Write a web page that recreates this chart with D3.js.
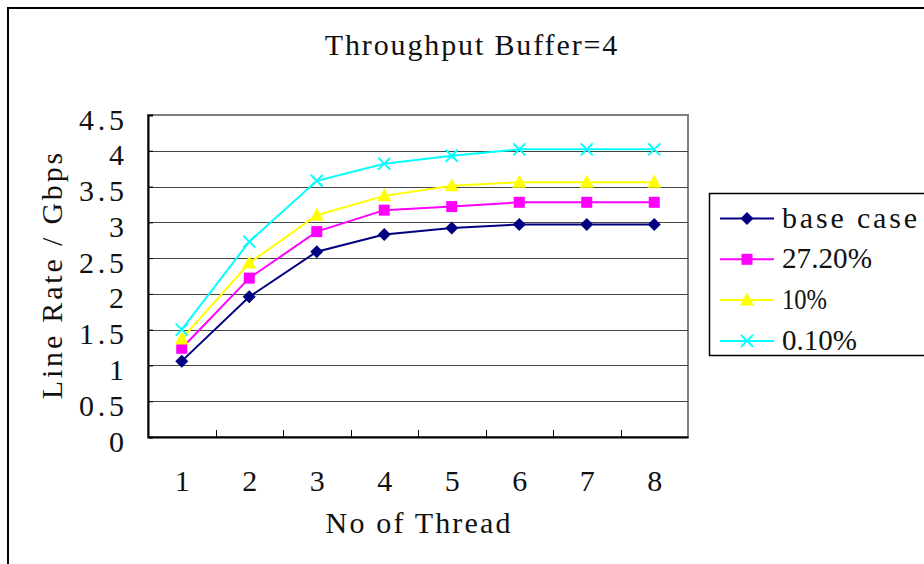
<!DOCTYPE html>
<html>
<head>
<meta charset="utf-8">
<script src="https://cdn.jsdelivr.net/npm/d3@7"></script>
<style>
  body { margin: 0; background: #fff; }
  svg { display: block; }
  svg text { font-family: 'Liberation Serif', 'DejaVu Serif', serif; }
</style>
</head>
<body>
<script>
const threads = [1, 2, 3, 4, 5, 6, 7, 8];
const yTicks = [0, 0.5, 1, 1.5, 2, 2.5, 3, 3.5, 4, 4.5];
const seriesNames = ['base case', '27.20%', '10%', '0.10%'];
const baseCase = [1.06, 1.96, 2.59, 2.83, 2.92, 2.97, 2.97, 2.97];
const pct2720 = [1.24, 2.22, 2.87, 3.17, 3.22, 3.28, 3.28, 3.28];
const pct10 = [1.37, 2.43, 3.10, 3.37, 3.51, 3.56, 3.56, 3.56];
const pct010 = [1.50, 2.73, 3.58, 3.82, 3.93, 4.02, 4.02, 4.02];

const width = 924;
const height = 564;
const marginTop = 115;
const marginLeft = 148;
const plotRight = 688;
const plotBottom = 437;
const charW = 15.4; // the original uses a half-width monospace face

const series = [
  { name: seriesNames[0], values: baseCase, color: '#000080', marker: 'diamond' },
  { name: seriesNames[1], values: pct2720, color: '#FF00FF', marker: 'square' },
  { name: seriesNames[2], values: pct10, color: '#FFFF00', marker: 'triangle' },
  { name: seriesNames[3], values: pct010, color: '#00FFFF', marker: 'cross' },
];

// stretch or squeeze a text to a fixed width, like the monospace original
const fitWidth = (sel, w) => {
  sel.each(function () {
    const natural = this.getComputedTextLength();
    const target = typeof w === 'function' ? w(this) : w;
    d3.select(this)
      .attr('textLength', target)
      .attr('lengthAdjust', natural > target ? 'spacingAndGlyphs' : 'spacing');
  });
};

const svg = d3
  .select('body')
  .append('svg')
  .attr('width', width)
  .attr('height', height)
  .attr('viewBox', [0, 0, width, height]);

// Outer chart frame (runs off the right and bottom edges)
svg
  .append('rect')
  .attr('x', 8)
  .attr('y', 8)
  .attr('width', 1000)
  .attr('height', 1000)
  .attr('fill', 'none')
  .attr('stroke', '#000')
  .attr('stroke-width', 2);

// Scales
const x = d3.scalePoint().domain(threads).range([marginLeft, plotRight]).padding(0.5);
const xBand = d3.scaleBand().domain(threads).range([marginLeft, plotRight]);
const y = d3.scaleLinear().domain([0, 4.5]).range([plotBottom, marginTop]);

// Plot border (gray top/right)
svg
  .append('rect')
  .attr('x', marginLeft)
  .attr('y', marginTop)
  .attr('width', plotRight - marginLeft)
  .attr('height', plotBottom - marginTop)
  .attr('fill', 'none')
  .attr('stroke', '#808080')
  .attr('stroke-width', 2);

// Gridlines
svg
  .append('g')
  .selectAll('line')
  .data(yTicks.filter((d) => d > 0 && d < 4.5))
  .join('line')
  .attr('x1', marginLeft)
  .attr('x2', plotRight)
  .attr('y1', (d) => Math.round(y(d)) + 0.5)
  .attr('y2', (d) => Math.round(y(d)) + 0.5)
  .attr('stroke', '#444')
  .attr('stroke-width', 1);

// y-axis
svg
  .append('g')
  .attr('transform', `translate(${marginLeft},0)`)
  .call(d3.axisLeft(y).tickValues(yTicks).tickSize(-5).tickPadding(24).tickFormat(d3.format('')))
  .call((g) => g.select('.domain').attr('stroke', '#000').attr('stroke-width', 2))
  .call((g) => g.selectAll('.tick line').attr('stroke', '#000'))
  .call((g) =>
    g
      .selectAll('.tick text')
      .attr('font-family', null)
      .attr('font-size', 30)
      .attr('fill', '#111')
      .attr('dy', 14)
      .attr('x', -24)
      .call(fitWidth, (el) => el.textContent.length * 15)
  );

// x-axis: ticks at category boundaries, pointing into the plot
svg
  .append('g')
  .selectAll('line')
  .data(threads.slice(1))
  .join('line')
  .attr('x1', (d) => Math.round(xBand(d)) + 0.5)
  .attr('x2', (d) => Math.round(xBand(d)) + 0.5)
  .attr('y1', plotBottom)
  .attr('y2', plotBottom - 7)
  .attr('stroke', '#000');

svg
  .append('g')
  .attr('transform', `translate(0,${plotBottom})`)
  .call(d3.axisBottom(x).tickSize(0).tickPadding(0))
  .call((g) => g.select('.domain').attr('stroke', '#000').attr('stroke-width', 2))
  .call((g) =>
    g
      .selectAll('.tick text')
      .attr('font-family', null)
      .attr('font-size', 30)
      .attr('fill', '#111')
      .attr('dy', null)
      .attr('y', 54)
  );

// Lines and markers
const line = d3
  .line()
  .x((d, i) => x(threads[i]))
  .y((d) => y(d));

const drawMarker = (g, type, color) => {
  if (type === 'diamond') {
    g.append('path').attr('d', 'M0,-6.5L6.5,0L0,6.5L-6.5,0Z').attr('fill', color);
  } else if (type === 'square') {
    g.append('rect').attr('x', -5.5).attr('y', -5.5).attr('width', 11).attr('height', 11).attr('fill', color);
  } else if (type === 'triangle') {
    g.append('path').attr('d', 'M0,-7.5L7,5.5L-7,5.5Z').attr('fill', color);
  } else {
    g.append('path')
      .attr('d', 'M-6,-6L6,6M-6,6L6,-6')
      .attr('stroke', color)
      .attr('stroke-width', 2)
      .attr('fill', 'none');
  }
};

for (let s of series) {
  svg
    .append('path')
    .attr('fill', 'none')
    .attr('stroke', s.color)
    .attr('stroke-width', 2)
    .attr('d', line(s.values));
  s.values.forEach((v, i) => {
    const g = svg.append('g').attr('transform', `translate(${x(threads[i])},${y(v)})`);
    drawMarker(g, s.marker, s.color);
  });
}

// Title
svg
  .append('text')
  .attr('x', width / 2 + 9)
  .attr('y', 55)
  .attr('text-anchor', 'middle')
  .attr('font-size', 30)
  .attr('fill', '#111')
  .text('Throughput Buffer=4')
  .call(fitWidth, 19 * charW);

// Axis titles
svg
  .append('text')
  .attr('x', (marginLeft + plotRight) / 2)
  .attr('y', 533)
  .attr('text-anchor', 'middle')
  .attr('font-size', 30)
  .attr('fill', '#111')
  .text('No of Thread')
  .call(fitWidth, 12 * charW);

svg
  .append('text')
  .attr('transform', 'translate(62,276) rotate(-90)')
  .attr('text-anchor', 'middle')
  .attr('font-size', 30)
  .attr('fill', '#111')
  .text('Line Rate / Gbps')
  .call(fitWidth, 16 * charW);

// Handmade legend
svg
  .append('rect')
  .attr('x', 709.5)
  .attr('y', 193.5)
  .attr('width', 300)
  .attr('height', 162)
  .attr('fill', '#fff')
  .attr('stroke', '#000')
  .attr('stroke-width', 1.5);

series.forEach((s, i) => {
  const cy = 218.5 + i * 40.8;
  svg
    .append('line')
    .attr('x1', 720)
    .attr('x2', 774)
    .attr('y1', cy)
    .attr('y2', cy)
    .attr('stroke', s.color)
    .attr('stroke-width', 2);
  const g = svg.append('g').attr('transform', `translate(747,${cy})`);
  drawMarker(g, s.marker, s.color);
  svg
    .append('text')
    .attr('x', 782)
    .attr('y', cy + 9)
    .attr('font-size', 30)
    .attr('fill', '#111')
    .text(s.name)
    .call(fitWidth, s.name.length * 15);
});
</script>
</body>
</html>
